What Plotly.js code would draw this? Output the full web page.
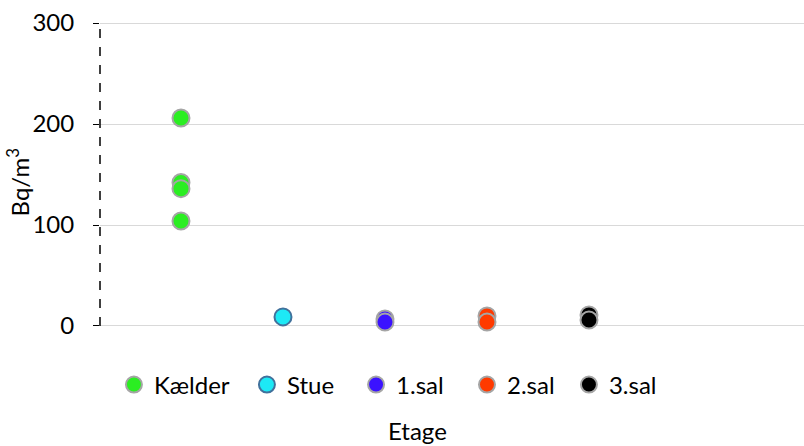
<!DOCTYPE html>
<html>
<head>
<meta charset="utf-8">
<script src="https://cdn.plot.ly/plotly-3.0.1.min.js"></script>
<style>
  html, body { margin: 0; padding: 0; background: #fff; }
  #chart { width: 804px; height: 446px; }
</style>
</head>
<body>
<div id="chart"></div>
<script>
// Series (floor levels) and their measured radon values in Bq/m3
const seriesNames = ["Kælder", "Stue", "1.sal", "2.sal", "3.sal"];
const seriesX = [1, 2, 3, 4, 5];
const kaelder = [206, 142, 136, 104];
const stue = [9];
const sal1 = [7, 4];
const sal2 = [10, 4];
const sal3 = [11, 6];
const seriesValues = [kaelder, stue, sal1, sal2, sal3];
const yTicks = [0, 100, 200, 300];
const yTickLabels = ["0", "100", "200", "300"];

const fillColors = ["#2bee22", "#1de9f5", "#3b12ff", "#ff3a00", "#000000"];
const lineColors = ["#a5a5a5", "#41719c", "#a5a5a5", "#a5a5a5", "#a5a5a5"];
// one legend per series so each entry can sit where the reference shows it
const legendIds = ["legend", "legend2", "legend3", "legend4", "legend5"];
const legendX = [0.0198, 0.2087, 0.3637, 0.5213, 0.6661];

const FONT = "Lato, Calibri, Carlito, sans-serif";

const traces = seriesNames.map((name, i) => ({
  type: "scatter",
  mode: "markers",
  name: name,
  legend: legendIds[i],
  x: seriesValues[i].map(() => seriesX[i]),
  y: seriesValues[i],
  cliponaxis: false,
  marker: {
    size: 17,
    color: fillColors[i],
    line: { color: lineColors[i], width: 2 }
  },
  hoverinfo: "x+y"
}));

const layout = {
  width: 804,
  height: 446,
  margin: { l: 100, r: 0, t: 22, b: 119 },
  paper_bgcolor: "#ffffff",
  plot_bgcolor: "#ffffff",
  font: { family: FONT, size: 24, color: "#000000" },
  showlegend: true,
  xaxis: {
    range: [0.206, 7.108],
    showgrid: false,
    zeroline: false,
    showline: false,
    showticklabels: false,
    ticks: "",
    fixedrange: true
  },
  yaxis: {
    range: [-1, 301],
    tickvals: yTicks,
    ticktext: yTickLabels,
    showgrid: true,
    gridcolor: "#d9d9d9",
    gridwidth: 1,
    zeroline: false,
    showline: false,
    ticks: "outside",
    ticklen: 6,
    tickwidth: 1,
    tickcolor: "#000000",
    ticklabelstandoff: 14,
    tickfont: { family: FONT, size: 24, color: "#000000" },
    fixedrange: true
  },
  shapes: [
    {
      type: "line",
      xref: "paper", x0: 0, x1: 0,
      yref: "y", y0: 0, y1: 300,
      line: { color: "#000000", width: 1.5, dash: "dash" },
      layer: "above"
    }
  ],
  annotations: [
    {
      text: "Bq/m<sup>3</sup>",
      textangle: -90,
      xref: "paper", x: -0.116, xanchor: "center",
      yref: "paper", y: 0.475, yanchor: "middle",
      showarrow: false,
      font: { family: FONT, size: 24, color: "#000000" }
    },
    {
      text: "Etage",
      xref: "paper", x: 0.4517, xanchor: "center",
      yref: "paper", y: -0.34, yanchor: "middle",
      showarrow: false,
      font: { family: FONT, size: 24, color: "#000000" }
    }
  ]
};

legendIds.forEach((id, i) => {
  layout[id] = {
    orientation: "h",
    x: legendX[i],
    xanchor: "left",
    y: -0.19,
    yanchor: "middle",
    font: { family: FONT, size: 24, color: "#000000" },
    bgcolor: "rgba(0,0,0,0)"
  };
});

Plotly.newPlot("chart", traces, layout, { staticPlot: true, displayModeBar: false });
</script>
</body>
</html>
